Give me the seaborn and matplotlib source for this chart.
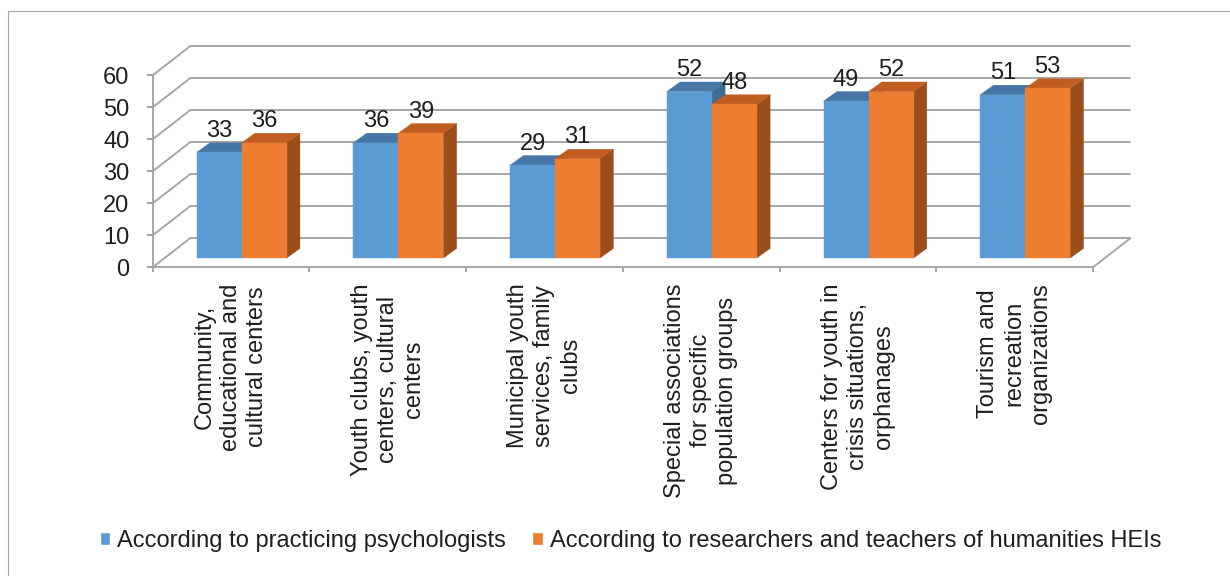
import numpy as np
import pandas as pd
import matplotlib
matplotlib.use("Agg")
import matplotlib.pyplot as plt
import matplotlib.transforms as mtransforms
from matplotlib.patches import Polygon, Patch
from matplotlib.lines import Line2D
import seaborn as sns

# ---------------- data ----------------
categories = [
    "Community,\neducational and\ncultural centers",
    "Youth clubs, youth\ncenters, cultural\ncenters",
    "Municipal youth\nservices, family\nclubs",
    "Special associations\nfor specific\npopulation groups",
    "Centers for youth in\ncrisis situations,\norphanages",
    "Tourism and\nrecreation\norganizations",
]
series_names = [
    "According to practicing psychologists",
    "According to researchers and teachers of humanities HEIs",
]
psychologists = [33, 36, 29, 52, 49, 51]
researchers = [36, 39, 31, 48, 52, 53]
y_ticks = [0, 10, 20, 30, 40, 50, 60]

# ---------------- style ----------------
BLUE, ORANGE = "#5B9BD5", "#ED7D31"
TOPS = ["#4676A5", "#BF5E20"]
SIDES = ["#3E6A94", "#9B4D1C"]
GRID = "#A6A6A6"
TEXT = "#1F1F1F"
FS = 17

sns.set_style("white")
plt.rcParams["font.family"] = ["Liberation Sans", "DejaVu Sans"]

W, H, DPI = 1230, 576, 100
fig = plt.figure(figsize=(W / DPI, H / DPI), dpi=DPI)
fig.patch.set_facecolor("white")
ax = fig.add_axes([152.7 / W, 1 - 267.3 / H, 940.3 / W, 192 / H])
ax.set_facecolor("none")

df = pd.DataFrame({
    "category": categories * 2,
    "value": psychologists + researchers,
    "series": [series_names[0]] * len(categories) + [series_names[1]] * len(categories),
})
sns.barplot(data=df, x="category", y="value", hue="series",
            palette=[BLUE, ORANGE], width=0.574, saturation=1,
            errorbar=None, legend=False, ax=ax, linewidth=0)
ax.set_xlim(-0.5, len(categories) - 0.5)
ax.set_ylim(0, 60)
ax.set_autoscale_on(False)
ax.set_xlabel("")
ax.set_ylabel("")


def px(dx, dy):
    return mtransforms.ScaledTranslation(dx / DPI, dy / DPI, fig.dpi_scale_trans)


IDT = mtransforms.IdentityTransform()
WALL_DX, WALL_DY = 37.3, 29.0
FRONT_DX, FRONT_DY = 10.6, 9.3
DEPTH = np.array([13.3, 9.6])
LW = 1.4

x0, x1 = ax.get_xlim()
# back wall gridlines
for v in y_ticks:
    ax.add_artist(Line2D([x0, x1], [v, v], transform=ax.transData + px(WALL_DX, WALL_DY),
                         color=GRID, lw=LW, clip_on=False, zorder=0.5))
    p0 = ax.transData.transform((x0, v))
    ax.add_artist(Line2D([p0[0], p0[0] + WALL_DX], [p0[1], p0[1] + WALL_DY], transform=IDT,
                         color=GRID, lw=LW, clip_on=False, zorder=0.5))
pr = ax.transData.transform((x1, 0))
ax.add_artist(Line2D([pr[0], pr[0] + WALL_DX], [pr[1], pr[1] + WALL_DY], transform=IDT,
                     color=GRID, lw=LW, clip_on=False, zorder=0.5))

# spines / ticks
for s in ["top", "right"]:
    ax.spines[s].set_visible(False)
for s in ["left", "bottom"]:
    ax.spines[s].set_color(GRID)
    ax.spines[s].set_linewidth(LW)
    ax.spines[s].set_zorder(0.6)

ax.set_yticks(y_ticks)
ax.tick_params(axis="y", left=True, direction="out", length=4.3, width=LW, color=GRID,
               pad=12.5, labelsize=FS, labelcolor=TEXT)
ax.set_xticks(range(len(categories)))
ax.set_xticklabels(categories, rotation=90, ha="center", va="top",
                   multialignment="center", linespacing=1.25)
ax.set_xticks(np.arange(-0.5, len(categories), 1.0), minor=True)
ax.tick_params(axis="x", which="major", bottom=True, length=0, pad=11.5,
               labelsize=FS, labelcolor=TEXT)
ax.tick_params(axis="x", which="minor", bottom=True, length=3.6, width=LW,
               color=GRID, direction="out")

# 3-D bars built on seaborn's bars
bar_tr = ax.transData + px(FRONT_DX, FRONT_DY)
bars = sorted(ax.patches, key=lambda p: p.get_x())
values_by_series = [psychologists, researchers]
for i, p in enumerate(bars):
    s = i % 2
    g = i // 2
    z = 3 + i * 0.1
    p.set_transform(bar_tr)
    p.set_clip_on(False)
    p.set_zorder(z + 0.05)
    p.set_edgecolor(p.get_facecolor())
    p.set_linewidth(0.3)
    x, w, h = p.get_x(), p.get_width(), p.get_height()
    fl, fr, br = bar_tr.transform([(x, h), (x + w, h), (x + w, 0)])
    top = Polygon([fl, fr, fr + DEPTH, fl + DEPTH], closed=True, transform=IDT,
                  facecolor=TOPS[s], edgecolor=TOPS[s], lw=0.3, zorder=z + 0.02, clip_on=False)
    side = Polygon([br, fr, fr + DEPTH, br + DEPTH], closed=True, transform=IDT,
                   facecolor=SIDES[s], edgecolor=SIDES[s], lw=0.3, zorder=z + 0.01, clip_on=False)
    ax.add_patch(top)
    ax.add_patch(side)
    ax.text(x + w / 2, h, f"{values_by_series[s][g]}",
            transform=ax.transData + px(FRONT_DX, FRONT_DY + 15.5),
            ha="center", va="baseline", fontsize=FS, color=TEXT, zorder=10, clip_on=False)

# legend
handles = [Patch(facecolor=BLUE, label=series_names[0]),
           Patch(facecolor=ORANGE, label=series_names[1])]
fig.legend(handles=handles, loc="center", bbox_to_anchor=((92 + 1169) / 2 / W, 1 - 541 / H),
           ncol=2, frameon=False, fontsize=FS, handlelength=0.45, handleheight=0.45,
           handletextpad=0.3, columnspacing=1.1, labelcolor=TEXT, borderaxespad=0, borderpad=0)

# outer frame
fig.add_artist(Line2D([8 / W, 8 / W, 1.0], [0.0, 1 - 11 / H, 1 - 11 / H],
                      transform=fig.transFigure, color="#A6A6A6", lw=0.8))

fig.savefig("out.png", dpi=DPI, facecolor="white")
